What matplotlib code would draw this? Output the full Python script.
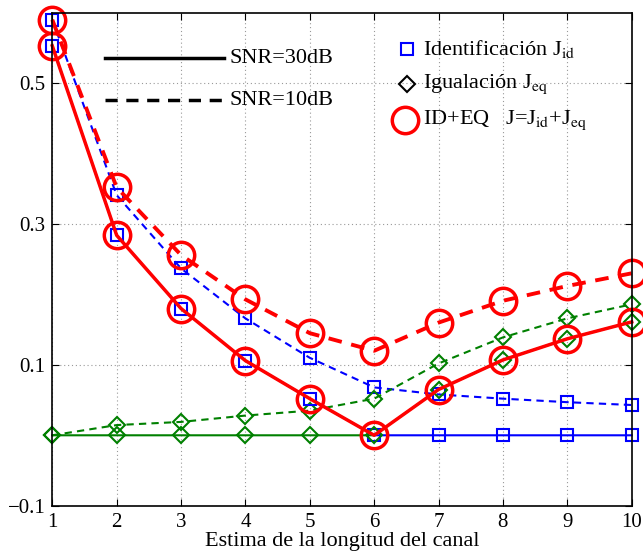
import matplotlib
matplotlib.use("Agg")
import matplotlib.pyplot as plt
import numpy as np

plt.rcParams['font.family'] = ['Liberation Serif', 'DejaVu Serif']
plt.rcParams['mathtext.fontset'] = 'stix'

# Estimated channel length
longitud = [1, 2, 3, 4, 5, 6, 7, 8, 9, 10]

# SNR = 30 dB
j_id_30 = [0.553, 0.284, 0.180, 0.106, 0.052, 0.0, 0.0, 0.0, 0.0, 0.0]
j_eq_30 = [0.0, 0.0, 0.0, 0.0, 0.0, 0.0, 0.065, 0.107, 0.137, 0.161]
j_tot_30 = [0.553, 0.284, 0.180, 0.106, 0.052, 0.0, 0.065, 0.107, 0.137, 0.161]

# SNR = 10 dB
j_id_10 = [0.590, 0.341, 0.237, 0.166, 0.110, 0.068, 0.058, 0.052, 0.047, 0.043]
j_eq_10 = [0.0, 0.0145, 0.019, 0.028, 0.035, 0.052, 0.102, 0.139, 0.166, 0.186]
j_tot_10 = [0.590, 0.352, 0.256, 0.193, 0.145, 0.120, 0.160, 0.191, 0.212, 0.230]

yticks = [-0.1, 0.1, 0.3, 0.5]

verde = (0, 0.5, 0)
dash = (0, (3.5, 2.5))

fig = plt.figure(figsize=(6.43, 5.53), dpi=100)
ax = fig.add_axes([0.0813, 0.0855, 0.9011, 0.8915])

sq = dict(marker='s', markersize=8, markerfacecolor='none', markeredgewidth=1.5,
          clip_on=False)
dm = dict(marker='D', markersize=8, markerfacecolor='none', markeredgewidth=1.5,
          clip_on=False)
ci = dict(marker='o', markersize=19, markerfacecolor='none', markeredgewidth=2.5,
          clip_on=False)

# SNR=10 dB curves (dashed)
ax.plot(longitud, j_id_10, color='b', lw=1.5, linestyle=dash, **sq)
ax.plot(longitud, j_eq_10, color=verde, lw=1.5, linestyle=dash, **dm)
ax.plot(longitud, j_tot_10, color='r', lw=2.8, linestyle=dash, **ci)

# SNR=30 dB curves (solid)
ax.plot(longitud, j_id_30, color='b', lw=1.5, **sq)
ax.plot(longitud, j_eq_30, color=verde, lw=1.5, **dm)
ax.plot(longitud, j_tot_30, color='r', lw=2.5, **ci)

ax.set_xlim(1, 10)
ax.set_ylim(-0.1, 0.6)
ax.set_xticks(longitud)
ax.set_yticks(yticks)
ax.set_yticklabels(['\u22120.1', '0.1', '0.3', '0.5'])
ax.grid(True, color='#999999', linestyle=(0, (1, 2.5)), linewidth=0.8)
ax.tick_params(direction='in', top=True, right=True, labelsize=15, length=5, pad=5)
for s in ax.spines.values():
    s.set_linewidth(1.2)
ax.set_xlabel('Estima de la longitud del canal', fontsize=16, labelpad=0)

# line-style key
ax.plot([1.82, 3.66], [0.535, 0.535], color='k', lw=2.5, clip_on=False)
ax.text(3.75, 0.535, 'SNR=30dB', fontsize=16, va='center')
ax.plot([1.82, 3.66], [0.4755, 0.4755], color='k', lw=2.5, linestyle=dash)
ax.text(3.75, 0.4755, 'SNR=10dB', fontsize=16, va='center')

# marker key
ax.plot([6.505], [0.549], color='b', **sq)
ax.text(6.76, 0.549, r'Identificación J$_{\rm id}$', fontsize=16, va='center')
ax.plot([6.505], [0.499], color='k', **dm)
ax.text(6.76, 0.499, r'Igualación J$_{\rm eq}$', fontsize=16, va='center')
ax.plot([6.48], [0.447], color='r', **ci)
ax.text(6.76, 0.447, r'ID+EQ   J=J$_{\rm id}$+J$_{\rm eq}$', fontsize=16, va='center')

fig.savefig('out.png', dpi=100)
